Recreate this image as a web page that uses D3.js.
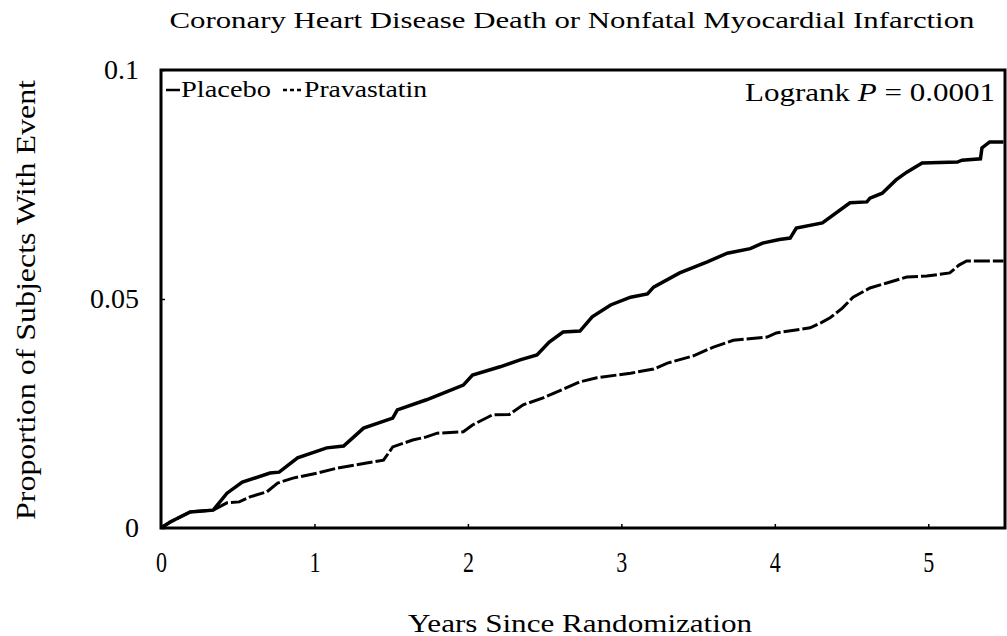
<!DOCTYPE html>
<html>
<head>
<meta charset="utf-8">
<script src="https://cdn.jsdelivr.net/npm/d3@7"></script>
<style>
  body { margin: 0; background: #fff; }
  text { font-family: "Liberation Serif", "DejaVu Serif", serif; fill: #000; }
</style>
</head>
<body>
<svg width="1007" height="636"></svg>
<script>

// years since randomization, cumulative proportion with event
let placeboYears = [0, 0.06, 0.19, 0.34, 0.43, 0.53, 0.71, 0.77, 0.89, 1.08, 1.19, 1.32, 1.51, 1.54,
    1.73, 1.86, 1.97, 2.03, 2.21, 2.34, 2.45, 2.53, 2.62, 2.73, 2.81, 2.93, 3.06, 3.17, 3.21,
    3.38, 3.56, 3.69, 3.84, 3.92, 4.03, 4.10, 4.14, 4.31, 4.49, 4.60, 4.62, 4.70, 4.79, 4.86,
    4.96, 5.19, 5.22, 5.34, 5.35, 5.40, 5.49];
let placeboValues = [0, 0.0013, 0.0035, 0.0039, 0.0076, 0.0100, 0.0120, 0.0122, 0.0153, 0.0175,
    0.0179, 0.0218, 0.0240, 0.0258, 0.0280, 0.0297, 0.0312, 0.0334, 0.0352, 0.0367, 0.0378,
    0.0406, 0.0428, 0.0430, 0.0461, 0.0487, 0.0504, 0.0511, 0.0526, 0.0557, 0.0581, 0.0600,
    0.0610, 0.0622, 0.0630, 0.0633, 0.0655, 0.0666, 0.0710, 0.0712, 0.0720, 0.0731, 0.0760,
    0.0777, 0.0797, 0.0799, 0.0803, 0.0806, 0.0830, 0.0843, 0.0843];

let pravaYears = [0, 0.06, 0.19, 0.34, 0.43, 0.51, 0.58, 0.69, 0.76, 0.86, 1.02, 1.15, 1.34, 1.45,
    1.51, 1.64, 1.73, 1.80, 1.97, 2.03, 2.16, 2.27, 2.36, 2.49, 2.64, 2.73, 2.84, 3.06, 3.21,
    3.30, 3.47, 3.60, 3.73, 3.95, 4.01, 4.23, 4.30, 4.36, 4.44, 4.51, 4.62, 4.73, 4.86, 4.99,
    5.14, 5.20, 5.25, 5.49];
let pravaValues = [0, 0.0013, 0.0035, 0.0039, 0.0055, 0.0057, 0.0068, 0.0079, 0.0098, 0.0109,
    0.0120, 0.0131, 0.0142, 0.0148, 0.0177, 0.0192, 0.0199, 0.0207, 0.0210, 0.0225, 0.0247,
    0.0248, 0.0269, 0.0284, 0.0306, 0.0319, 0.0328, 0.0338, 0.0347, 0.0360, 0.0376, 0.0395,
    0.0410, 0.0417, 0.0426, 0.0437, 0.0448, 0.0459, 0.0480, 0.0504, 0.0524, 0.0535, 0.0548,
    0.0550, 0.0557, 0.0574, 0.0583, 0.0583];

let xTicks = [0, 1, 2, 3, 4, 5];
let yTicks = [0, 0.05, 0.1];
let yTickLabels = ["0", "0.05", "0.1"];

let svg = d3.select("svg");
let plotLeft = 161, plotRight = 1005, plotTop = 70, plotBottom = 528;

let x = d3.scaleLinear().domain([0, 5.5]).range([plotLeft, plotRight]);
let y = d3.scaleLinear().domain([0, 0.1]).range([plotBottom, plotTop]);

let line = d3.line()
    .x(function (d) { return x(d[0]); })
    .y(function (d) { return y(d[1]); });

let placebo = d3.zip(placeboYears, placeboValues);
let prava = d3.zip(pravaYears, pravaValues);

// curves
svg.append("path")
    .datum(prava)
    .attr("d", line)
    .attr("fill", "none")
    .attr("stroke", "#000")
    .attr("stroke-width", 3)
    .attr("stroke-dasharray", "16,3");

svg.append("path")
    .datum(placebo)
    .attr("d", line)
    .attr("fill", "none")
    .attr("stroke", "#000")
    .attr("stroke-width", 3.5);

// axes
let xAxis = svg.append("g")
    .attr("transform", "translate(0," + plotBottom + ")")
    .call(d3.axisBottom(x).tickValues(xTicks).tickSize(-4).tickPadding(23).tickFormat(d3.format("d")));
xAxis.select(".domain").remove();
xAxis.selectAll("text")
    .style("font-size", "29px")
    .attr("fill", "#000")
    .attr("textLength", 11)
    .attr("lengthAdjust", "spacingAndGlyphs");

let yAxis = svg.append("g")
    .attr("transform", "translate(" + plotLeft + ",0)")
    .call(d3.axisLeft(y).tickValues(yTicks).tickSize(-4).tickPadding(22)
        .tickFormat(function (d, i) { return yTickLabels[i]; }));
yAxis.select(".domain").remove();
yAxis.selectAll("text").style("font-size", "28px").attr("fill", "#000");
svg.selectAll(".tick line").attr("stroke", "#000").attr("stroke-width", 1.5);

// frame
svg.append("rect")
    .attr("x", plotLeft)
    .attr("y", plotTop)
    .attr("width", plotRight - plotLeft)
    .attr("height", plotBottom - plotTop)
    .attr("fill", "none")
    .attr("stroke", "#000")
    .attr("stroke-width", 3);

// titles
svg.append("text")
    .attr("x", 572)
    .attr("y", 28)
    .attr("text-anchor", "middle")
    .attr("textLength", 805)
    .attr("lengthAdjust", "spacingAndGlyphs")
    .style("font-size", "23px")
    .text("Coronary Heart Disease Death or Nonfatal Myocardial Infarction");

svg.append("text")
    .attr("x", 580)
    .attr("y", 632)
    .attr("text-anchor", "middle")
    .attr("textLength", 344)
    .attr("lengthAdjust", "spacingAndGlyphs")
    .style("font-size", "25px")
    .text("Years Since Randomization");

svg.append("text")
    .attr("transform", "translate(35,300) rotate(-90)")
    .attr("text-anchor", "middle")
    .attr("textLength", 440)
    .attr("lengthAdjust", "spacingAndGlyphs")
    .style("font-size", "27px")
    .text("Proportion of Subjects With Event");

// legend
svg.append("line")
    .attr("x1", 166).attr("x2", 180)
    .attr("y1", 90).attr("y2", 90)
    .attr("stroke", "#000").attr("stroke-width", 2.5);
svg.append("text")
    .attr("x", 181).attr("y", 97)
    .attr("textLength", 90)
    .attr("lengthAdjust", "spacingAndGlyphs")
    .style("font-size", "24px")
    .text("Placebo");

svg.append("line")
    .attr("x1", 283).attr("x2", 303)
    .attr("y1", 90).attr("y2", 90)
    .attr("stroke", "#000").attr("stroke-width", 2.5)
    .attr("stroke-dasharray", "4,3");
svg.append("text")
    .attr("x", 304).attr("y", 97)
    .attr("textLength", 123)
    .attr("lengthAdjust", "spacingAndGlyphs")
    .style("font-size", "24px")
    .text("Pravastatin");

let logrank = svg.append("text")
    .attr("x", 745).attr("y", 101)
    .attr("textLength", 250)
    .attr("lengthAdjust", "spacingAndGlyphs")
    .style("font-size", "25px");
logrank.append("tspan").text("Logrank ");
logrank.append("tspan").style("font-style", "italic").text("P");
logrank.append("tspan").text(" = 0.0001");

</script>
</body>
</html>
